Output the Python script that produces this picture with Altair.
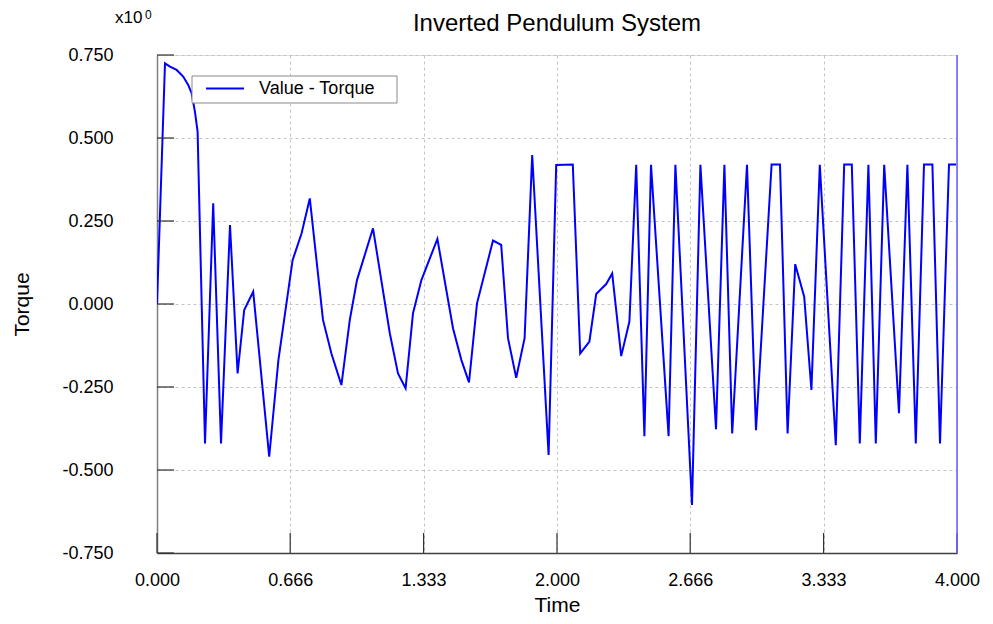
import altair as alt
import pandas as pd

# ---- data ----
time = [0.000, 0.040, 0.065, 0.098, 0.131, 0.156, 0.173, 0.190, 0.203, 0.240,
        0.281, 0.320, 0.365, 0.403, 0.436, 0.481, 0.561, 0.607, 0.678, 0.723,
        0.764, 0.830, 0.872, 0.922, 0.964, 1.000, 1.080, 1.164, 1.205, 1.243,
        1.280, 1.322, 1.402, 1.480, 1.522, 1.560, 1.600, 1.680, 1.721, 1.755,
        1.796, 1.838, 1.876, 1.958, 1.996, 2.079, 2.116, 2.162, 2.196, 2.246,
        2.276, 2.321, 2.362, 2.396, 2.437, 2.470, 2.558, 2.592, 2.675, 2.717,
        2.795, 2.837, 2.876, 2.950, 2.995, 3.073, 3.115, 3.153, 3.191, 3.236,
        3.272, 3.314, 3.394, 3.436, 3.474, 3.514, 3.557, 3.594, 3.636, 3.710,
        3.752, 3.794, 3.835, 3.877, 3.915, 3.960, 3.995]
torque = [0.000, 0.725, 0.715, 0.705, 0.685, 0.660, 0.635, 0.578, 0.519, -0.420,
          0.303, -0.420, 0.238, -0.209, -0.018, 0.037, -0.460, -0.169, 0.132, 0.213,
          0.318, -0.048, -0.149, -0.244, -0.048, 0.072, 0.228, -0.088, -0.209, -0.254,
          -0.028, 0.072, 0.196, -0.073, -0.169, -0.236, 0.002, 0.191, 0.178, -0.103,
          -0.222, -0.103, 0.449, -0.455, 0.419, 0.420, -0.149, -0.113, 0.030, 0.060,
          0.092, -0.157, -0.053, 0.419, -0.398, 0.419, -0.398, 0.419, -0.605, 0.419,
          -0.377, 0.419, -0.390, 0.419, -0.380, 0.420, 0.420, -0.390, 0.120, 0.022,
          -0.259, 0.419, -0.425, 0.420, 0.420, -0.420, 0.419, -0.420, 0.419, -0.329,
          0.419, -0.420, 0.420, 0.420, -0.420, 0.420, 0.420]

x_tick_values = [0.0, 0.666, 1.333, 2.0, 2.666, 3.333, 4.0]
y_tick_values = [-0.75, -0.5, -0.25, 0.0, 0.25, 0.5, 0.75]
x_domain = [0.0, 4.0]
y_domain = [-0.75, 0.75]
end_time = [4.0]
series_name = ["Value - Torque"]
chart_title = ["Inverted Pendulum System"]
x_title = "Time"
y_title = "Torque"
exponent_base = ["x10"]
exponent_power = ["0"]

# ---- frames ----
df = pd.DataFrame({"t": time, "v": torque, "i": list(range(len(time)))})
xt = pd.DataFrame({"t": x_tick_values})
yt = pd.DataFrame({"v": y_tick_values})
edge_df = pd.DataFrame({"t": end_time})
leg_df = pd.DataFrame({"label": series_name})
title_df = pd.DataFrame({"title": chart_title})
exp_df = pd.DataFrame({"base": exponent_base, "power": exponent_power})

W, H = 800, 498
FONT = "Liberation Sans"
LABEL_EXPR = "(datum.value < 0 ? '-' : '') + format(abs(datum.value), '.3f')"

xscale = alt.Scale(domain=x_domain, nice=False, zero=False)
yscale = alt.Scale(domain=y_domain, nice=False, zero=False)

xaxis = alt.Axis(
    values=x_tick_values, format=".3f", labelExpr=LABEL_EXPR, title=x_title,
    grid=True, gridDash=[3, 3], gridColor="#c4c4c4", gridWidth=1,
    ticks=False, tickSize=0, domain=True, domainColor="#404040", domainWidth=1.5,
    labelFont=FONT, labelFontSize=18, labelColor="#000000", labelPadding=18,
    labelFlush=False, labelOverlap=False,
    titleFont=FONT, titleFontSize=21, titleFontWeight="normal", titleColor="#000000",
    titleX=W / 2, titleY=58, titleBaseline="alphabetic",
)
yaxis = alt.Axis(
    values=y_tick_values, format=".3f", labelExpr=LABEL_EXPR, title=y_title,
    grid=True, gridDash=[3, 3], gridColor="#c4c4c4", gridWidth=1,
    ticks=False, tickSize=0, domain=True, domainColor="#808080", domainWidth=1.5,
    labelFont=FONT, labelFontSize=18, labelColor="#000000", labelPadding=44,
    labelOverlap=False,
    titleFont=FONT, titleFontSize=21, titleFontWeight="normal", titleColor="#000000",
    titleX=-135, titleY=H / 2, titleBaseline="middle",
)

X = alt.X("t:Q", scale=xscale, axis=xaxis)
Y = alt.Y("v:Q", scale=yscale, axis=yaxis)

line = alt.Chart(df).mark_line(color="#0000ff", strokeWidth=2, clip=True).encode(
    x=X, y=Y, order="i:Q"
)

yticks = alt.Chart(yt).mark_rule(color="#303030", strokeWidth=1.2).encode(
    y=Y, x=alt.value(0), x2=alt.value(17)
)
xticks = alt.Chart(xt).mark_rule(color="#303030", strokeWidth=1.2).encode(
    x=X, y=alt.value(H), y2=alt.value(H - 20)
)
edge = alt.Chart(edge_df).mark_rule(color="#6060ff", strokeWidth=1.5).encode(x=X)

box = alt.Chart(leg_df).mark_rect(fill="white", stroke="#8a8a8a", strokeWidth=1).encode(
    x=alt.value(35), x2=alt.value(240), y=alt.value(21), y2=alt.value(48)
)
sample = alt.Chart(leg_df).mark_rule(color="#0000ff", strokeWidth=2).encode(
    x=alt.value(49), x2=alt.value(87), y=alt.value(33.5)
)
legend_text = alt.Chart(leg_df).mark_text(
    align="left", baseline="middle", font=FONT, fontSize=18, color="#000000"
).encode(text="label:N", x=alt.value(102), y=alt.value(34))

title_text = alt.Chart(title_df).mark_text(
    align="center", baseline="alphabetic", font=FONT, fontSize=24, color="#000000"
).encode(text="title:N", x=alt.value(W / 2), y=alt.value(-24))

exp_base = alt.Chart(exp_df).mark_text(
    align="left", baseline="alphabetic", font=FONT, fontSize=17, color="#000000"
).encode(text="base:N", x=alt.value(-42), y=alt.value(-32))
exp_pow = alt.Chart(exp_df).mark_text(
    align="left", baseline="alphabetic", font=FONT, fontSize=12, color="#000000"
).encode(text="power:N", x=alt.value(-12), y=alt.value(-36))

chart = alt.layer(
    line, yticks, xticks, edge, box, sample, legend_text, title_text, exp_base, exp_pow
).properties(
    width=W,
    height=H,
    padding={"left": 149, "top": 47, "right": 26, "bottom": 63},
    autosize=alt.AutoSizeParams(type="none"),
).configure_view(
    stroke="#888888", strokeWidth=1.5
).configure(background="white")

chart.save("out.html", embed_options={"renderer": "svg", "actions": False})
